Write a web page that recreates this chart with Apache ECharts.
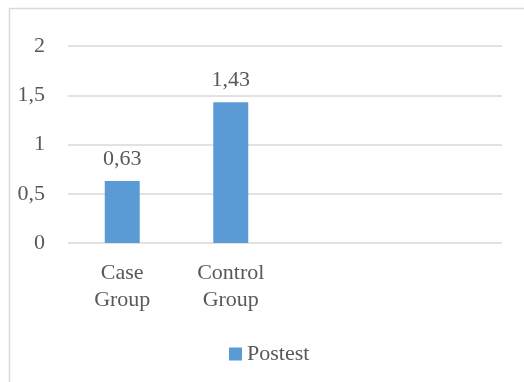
<!DOCTYPE html>
<html>
<head>
<meta charset="utf-8">
<style>
  html, body { margin: 0; padding: 0; background: #fff; }
  #main { width: 524px; height: 382px; }
</style>
<script src="https://cdn.jsdelivr.net/npm/echarts@6/dist/echarts.min.js"></script>
</head>
<body>
<div id="main"></div>
<script>
var categories = ['Case\nGroup', 'Control\nGroup', '', ''];
var postest = [0.63, 1.43, null, null];
var yTicks = [0, 0.5, 1, 1.5, 2];

var font = 'Times New Roman, Liberation Serif, serif';
var textColor = '#595959';

function comma(v) {
	return String(v).replace('.', ',');
}

var myChart = echarts.init(document.getElementById('main'));
var option = {
	animation: false,
	textStyle: { fontFamily: font },
	graphic: [{
		type: 'rect',
		shape: { x: 9.5, y: 8.5, width: 530, height: 390 },
		style: { fill: 'none', stroke: '#d9d9d9', lineWidth: 1.5 },
		silent: true
	}],
	grid: { left: 68, right: 22, top: 46, bottom: 139 },
	legend: {
		data: ['Postest'],
		left: 224,
		top: 338,
		itemWidth: 13,
		itemHeight: 13,
		itemGap: 5,
		icon: 'rect',
		textStyle: { fontFamily: font, fontSize: 22, color: textColor }
	},
	xAxis: {
		type: 'category',
		data: categories,
		axisLine: { show: false },
		axisTick: { show: false },
		axisLabel: {
			interval: 0,
			margin: 17,
			fontFamily: font,
			fontSize: 22,
			lineHeight: 27,
			color: textColor
		}
	},
	yAxis: {
		type: 'value',
		min: yTicks[0],
		max: yTicks[yTicks.length - 1],
		interval: 0.5,
		axisLine: { show: false },
		axisTick: { show: false },
		splitLine: { lineStyle: { color: '#d9d9d9', width: 1.5 } },
		axisLabel: {
			margin: 23,
			fontFamily: font,
			fontSize: 22,
			color: textColor,
			formatter: function(v) { return comma(v); }
		}
	},
	series: [{
		name: 'Postest',
		type: 'bar',
		data: postest,
		barWidth: 35,
		itemStyle: { color: '#5b9bd5' },
		label: {
			show: true,
			position: 'top',
			distance: 11,
			fontFamily: font,
			fontSize: 22,
			color: textColor,
			formatter: function(p) { return comma(p.value); }
		}
	}]
};
myChart.setOption(option);
</script>
</body>
</html>
